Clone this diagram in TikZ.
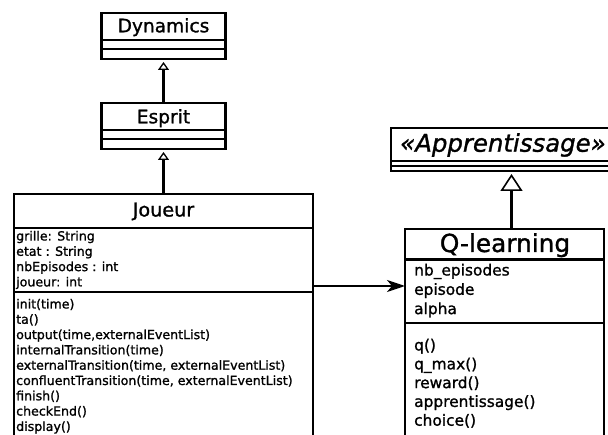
\documentclass[tikz,border=0pt]{standalone}
\usepackage{fontspec}
\setmainfont[FakeBold=1.2]{DejaVu Sans}
\usetikzlibrary{arrows.meta}
\begin{document}
\begin{tikzpicture}[x=1pt,y=-1pt,
  box/.style={draw, line width=2.2pt, rectangle, inner sep=0pt, outer sep=0pt},
  sepline/.style={line width=2.2pt},
  inh/.style={line width=2.2pt, shorten >=3pt, -{Triangle[open, line width=1.3pt, length=8pt, width=11pt]}},
  inhbig/.style={line width=2.2pt, shorten >=3pt, -{Triangle[open, line width=1.6pt, length=17pt, width=22pt]}},
  assoc/.style={line width=2.2pt, -{Stealth[length=18pt, width=12pt, inset=5pt]}},
  title/.style={anchor=base, inner sep=0pt},
  jm/.style={anchor=base west, inner sep=0pt, font=\fontsize{12.6}{15.3}\selectfont},
  qm/.style={anchor=base west, inner sep=0pt, font=\fontsize{15.4}{19}\selectfont}
]
\useasboundingbox (0,0) rectangle (608,435);
\clip (0,0) rectangle (608,435);

% boxes
\node[box, minimum width=124pt, minimum height=46pt] (dyn) at (163.5,36) {};
\draw[sepline] ([yshift=-27pt]dyn.north west) -- ([yshift=-27pt]dyn.north east);
\draw[sepline] ([yshift=-36pt]dyn.north west) -- ([yshift=-36pt]dyn.north east);

\node[box, minimum width=124pt, minimum height=46pt] (esprit) at (163.5,126) {};
\draw[sepline] ([yshift=-27pt]esprit.north west) -- ([yshift=-27pt]esprit.north east);
\draw[sepline] ([yshift=-36pt]esprit.north west) -- ([yshift=-36pt]esprit.north east);

\node[box, minimum width=299pt, minimum height=286pt] (joueur) at (163.5,337) {};
\draw[sepline] ([yshift=-34pt]joueur.north west) -- ([yshift=-34pt]joueur.north east);
\draw[sepline] ([yshift=-98pt]joueur.north west) -- ([yshift=-98pt]joueur.north east);

\node[box, minimum width=241pt, minimum height=43pt] (appr) at (511.5,149.5) {};
\draw[sepline] ([yshift=-33pt]appr.north west) -- ([yshift=-33pt]appr.north east);
\draw[sepline] ([yshift=-38pt]appr.north west) -- ([yshift=-38pt]appr.north east);

\node[box, minimum width=199pt, minimum height=251pt] (qlearn) at (504.5,354.5) {};
\draw[sepline] ([yshift=-30.5pt]qlearn.north west) -- ([yshift=-30.5pt]qlearn.north east);
\draw[sepline] ([yshift=-94pt]qlearn.north west) -- ([yshift=-94pt]qlearn.north east);

% titles
\node[title, font=\fontsize{18.6}{20}\selectfont] (tdyn) at (163.5,32.3) {Dynamics};
\node[title, font=\fontsize{18.6}{20}\selectfont] (tesp) at (163.5,123.3) {Esprit};
\node[title, font=\fontsize{19.2}{21}\selectfont] (tjou) at (163.5,216.5) {Joueur};
\node[title, font=\fontsize{24.8}{26}\selectfont] (tql) at (505,252) {Q-learning};
\node[anchor=base west, inner sep=0pt, font=\fontsize{24.4}{26}\selectfont\itshape] (tapp) at (400,151.7) {«Apprentissage»};

% Joueur members
\node[jm] (j1) at (16,240.5) {grille: String};
\node[jm] (j2) at (16,255.8) {etat : String};
\node[jm] (j3) at (16,271.1) {nbEpisodes : int};
\node[jm] (j4) at (16,286.4) {joueur: int};
\node[jm] (m1) at (16,308.5) {init(time)};
\node[jm] (m2) at (16,323.8) {ta()};
\node[jm] (m3) at (16,339.1) {output(time,externalEventList)};
\node[jm] (m4) at (16,354.4) {internalTransition(time)};
\node[jm] (m5) at (16,369.7) {externalTransition(time, externalEventList)};
\node[jm] (m6) at (16,385) {confluentTransition(time, externalEventList)};
\node[jm] (m7) at (16,400.3) {finish()};
\node[jm] (m8) at (16,415.6) {checkEnd()};
\node[jm] (m9) at (16,430.9) {display()};

% Q-learning members
\node[qm] (q1) at (414,275.5) {nb\_episodes};
\node[qm] (q2) at (414,294.8) {episode};
\node[qm] (q3) at (414,314.1) {alpha};
\node[qm] (n1) at (414,350.5) {q()};
\node[qm] (n2) at (414,369.3) {q\_max()};
\node[qm] (n3) at (414,388.1) {reward()};
\node[qm] (n4) at (414,406.9) {apprentissage()};
\node[qm] (n5) at (414,425.7) {choice()};

% connectors
\draw[inh] (esprit.north) -- (dyn.south);
\draw[inh] (joueur.north) -- (esprit.south);
\draw[inhbig] (appr.south |- qlearn.north) -- (appr.south);
\coordinate (ya) at (0,286);
\draw[assoc] (joueur.east |- ya) -- (qlearn.west |- ya);
\end{tikzpicture}
\end{document}
